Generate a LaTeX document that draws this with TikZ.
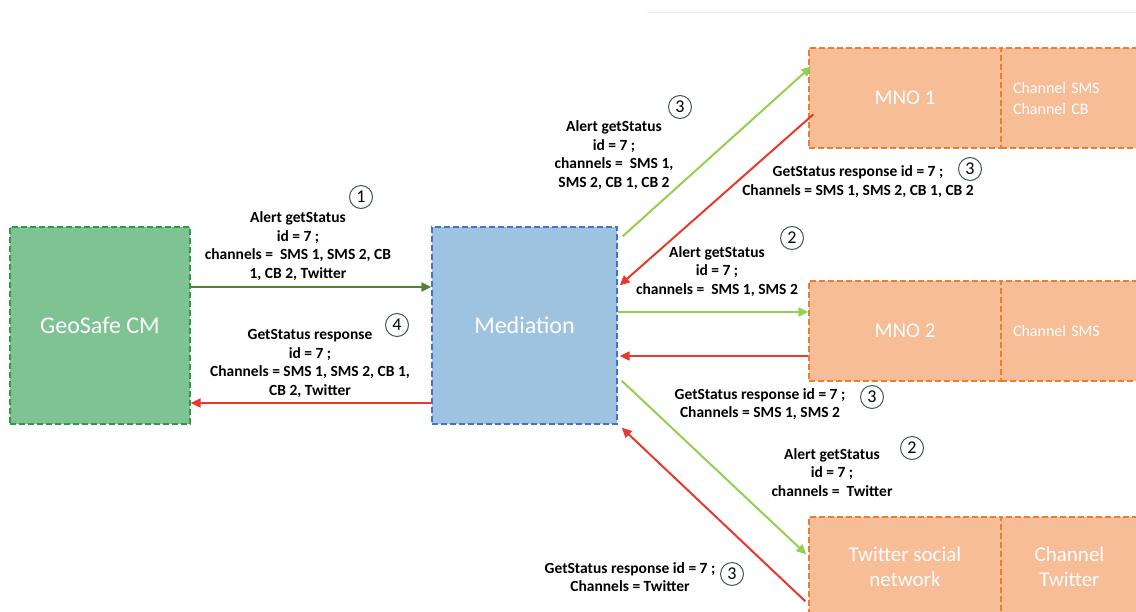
\documentclass[tikz,border=0pt]{standalone}
\usepackage{fontspec}
\setmainfont{Carlito}
\usetikzlibrary{arrows.meta,calc}
\definecolor{geofill}{HTML}{7FC393}
\definecolor{geoline}{HTML}{2E9A45}
\definecolor{medfill}{HTML}{9DC3E0}
\definecolor{medline}{HTML}{4472C4}
\definecolor{orfill}{HTML}{F6BD97}
\definecolor{orline}{HTML}{ED7D31}
\definecolor{dkgreen}{HTML}{548235}
\definecolor{ltgreen}{HTML}{92D050}
\definecolor{myred}{HTML}{E8392E}
\definecolor{numc}{HTML}{44546A}
\tikzset{
  box/.style={draw, dash pattern=on 6pt off 3pt, line width=1.3pt, inner sep=0pt,
    text=white, align=center},
  geobox/.style={box, fill=geofill, draw=geoline, minimum width=180pt, minimum height=197pt,
    font=\fontsize{24}{28}\selectfont},
  medbox/.style={box, fill=medfill, draw=medline, minimum width=185pt, minimum height=197pt,
    font=\fontsize{24}{28}\selectfont},
  orbox/.style={box, fill=orfill, draw=orline, minimum width=192pt, minimum height=100pt,
    font=\fontsize{21}{25}\selectfont},
  chbox/.style={box, fill=orfill, draw=orline, minimum width=140pt, minimum height=100pt},
  lbl/.style={font=\bfseries\fontsize{15.5}{18.7}\selectfont, align=center, inner sep=0pt},
  num/.style={circle, draw=numc, line width=1pt, minimum size=23pt, inner sep=0pt,
    font=\fontsize{18}{18}\selectfont},
  conn/.style={line width=2pt, -{Triangle[length=10pt,width=9pt]}},
}
\begin{document}
\begin{tikzpicture}[x=1pt,y=-1pt]
\useasboundingbox (0,0) rectangle (1136,611);
\clip (0,0) rectangle (1136,611);
\fill[white] (0,0) rectangle (1136,611);
\draw[black!8, line width=1pt] (647,12) -- (1136,12);

% boxes
\node[geobox] (geo) at (100,325.5) {GeoSafe CM};
\node[medbox] (med) at (524.5,325.5) {Mediation};
\node[orbox] (mno1) at (905,98) {MNO 1};
\node[chbox, font=\fontsize{16}{21}\selectfont, text width=116pt, align=left] (ch1) at (1071,98) {Channel SMS\\Channel CB};
\node[orbox] (mno2) at (905,331) {MNO 2};
\node[chbox, font=\fontsize{16}{21}\selectfont, text width=116pt, align=left] (ch2) at (1071,331) {Channel SMS};
\node[orbox] (tw) at (905,567) {Twitter social\\network};
\node[chbox, font=\fontsize{21}{25}\selectfont, text width=130pt, align=center] (ch3) at (1071,567) {\hspace*{-3pt}Channel\\\hspace*{-3pt}Twitter};

% helper coordinates
\coordinate (y1) at (0,287);
\coordinate (y2) at (0,403);
\coordinate (y3) at (0,312);
\coordinate (y4) at (0,356);
\coordinate (s3) at ($(med.north east)+(5,10)$);
\coordinate (e3) at ($(mno1.north west)+(3,19)$);
\coordinate (s4) at ($(mno1.north west)+(5,67)$);
\coordinate (e4) at ($(med.north east)+(2,59)$);
\coordinate (s7) at ($(med.south east)+(4,-44)$);
\coordinate (e7) at ($(tw.north west)+(-2,38)$);
\coordinate (s8) at ($(tw.north west)+(-3,85)$);
\coordinate (e8) at ($(med.south east)+(4,3)$);

% connectors
\draw[conn, dkgreen] (geo.east |- y1) -- (med.west |- y1);
\draw[conn, myred] (med.west |- y2) -- (geo.east |- y2);
\draw[conn, ltgreen] (s3) -- (e3);
\draw[conn, myred] (s4) -- (e4);
\draw[conn, ltgreen] (med.east |- y3) -- (mno2.west |- y3);
\draw[conn, myred] (mno2.west |- y4) -- ([xshift=2pt]med.east |- y4);
\draw[conn, ltgreen] (s7) -- (e7);
\draw[conn, myred] (s8) -- (e8);

% labels
\node[lbl] (l1) at (298,246) {Alert getStatus\\id = 7 ;\\channels =~ SMS 1, SMS 2, CB\\1, CB 2, Twitter};
\node[lbl] (l4) at (310,363.5) {GetStatus response\\id = 7 ;\\Channels = SMS 1, SMS 2, CB 1,\\CB 2, Twitter};
\node[lbl] (l3a) at (614,155) {Alert getStatus\\id = 7 ;\\channels =~ SMS 1,\\SMS 2, CB 1, CB 2};
\node[lbl] (l3b) at (858,181.5) {GetStatus response id = 7 ;\\Channels = SMS 1, SMS 2, CB 1, CB 2};
\node[lbl] (l2a) at (717,271.5) {Alert getStatus\\id = 7 ;\\channels =~ SMS 1, SMS 2};
\node[lbl] (l3c) at (760,404) {GetStatus response id = 7 ;\\Channels = SMS 1, SMS 2};
\node[lbl] (l2b) at (832,472.5) {Alert getStatus\\id = 7 ;\\channels =~ Twitter};
\node[lbl] (l3d) at (630,577) {GetStatus response id = 7 ;\\Channels = Twitter};

% step numbers
\node[num] (n1) at (361,197) {1};
\node[num] (n4) at (397,325) {4};
\node[num] (n3a) at (680,107) {3};
\node[num] (n3b) at (970,169) {3};
\node[num] (n2a) at (792,238) {2};
\node[num] (n3c) at (872,397) {3};
\node[num] (n2b) at (912,448) {2};
\node[num] (n3d) at (732,574) {3};
\end{tikzpicture}
\end{document}
